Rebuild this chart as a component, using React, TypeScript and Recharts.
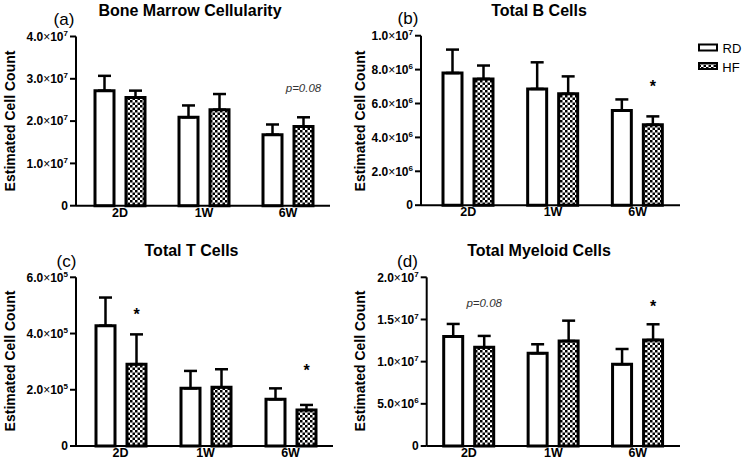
import React from 'react';
import { BarChart, Bar, XAxis, YAxis, ErrorBar, LabelList } from 'recharts';

const FONT = '"Liberation Sans", Arial, Helvetica, sans-serif';

const timepoints = ['2D', '1W', '6W'];

// (a) Bone Marrow Cellularity
const marrowRD = [2.72e7, 2.09e7, 1.68e7];
const marrowRDErr = [0.35e7, 0.28e7, 0.24e7];
const marrowHF = [2.56e7, 2.27e7, 1.87e7];
const marrowHFErr = [0.16e7, 0.37e7, 0.22e7];
const marrowNote = ['', '', 'p=0.08'];
const marrowNoteAt = [0, 0, 2.79e7];
const marrowTicks = [0, 1e7, 2e7, 3e7, 4e7];

// (b) Total B Cells
const bcellRD = [7.8e6, 6.86e6, 5.59e6];
const bcellRDErr = [1.38e6, 1.57e6, 0.65e6];
const bcellHF = [7.45e6, 6.57e6, 4.75e6];
const bcellHFErr = [0.79e6, 1.03e6, 0.49e6];
const bcellNote = ['', '', '*'];
const bcellNoteAt = [0, 0, 7.2e6];
const bcellTicks = [0, 2e6, 4e6, 6e6, 8e6, 1e7];

// (c) Total T Cells
const tcellRD = [4.28e5, 2.05e5, 1.66e5];
const tcellRDErr = [1.0e5, 0.62e5, 0.39e5];
const tcellHF = [2.91e5, 2.09e5, 1.28e5];
const tcellHFErr = [1.06e5, 0.64e5, 0.18e5];
const tcellNote = ['*', '', '*'];
const tcellNoteAt = [4.8e5, 0, 2.79e5];
const tcellTicks = [0, 2e5, 4e5, 6e5];

// (d) Total Myeloid Cells
const myeloidRD = [1.297e7, 1.1e7, 0.969e7];
const myeloidRDErr = [0.15e7, 0.106e7, 0.181e7];
const myeloidHF = [1.17e7, 1.245e7, 1.257e7];
const myeloidHFErr = [0.135e7, 0.241e7, 0.186e7];
const myeloidNote = ['p=0.08', '', '*'];
const myeloidNoteAt = [1.7e7, 0, 1.69e7];
const myeloidTicks = [0, 5e6, 1e7, 1.5e7, 2e7];

const buildRows = (rd: number[], rdErr: number[], hf: number[], hfErr: number[], note: string[], noteAt: number[]) =>
  timepoints.map((t, i) => ({
    time: t,
    rd: rd[i],
    rdErr: [0, rdErr[i]],
    hf: hf[i],
    hfErr: [0, hfErr[i]],
    note: note[i],
    noteAt: noteAt[i],
  }));

function YTick(props: any) {
  const { x, y, payload } = props;
  const v = payload.value;
  const common = { x, y, dy: '0.35em', textAnchor: 'end' as const, fontSize: 12, fontWeight: 700, fill: '#000', fontFamily: FONT };
  if (v === 0) return <text {...common}>0</text>;
  const exp = Math.floor(Math.log10(v) + 1e-9);
  const mant = (v / Math.pow(10, exp)).toFixed(1);
  return (
    <text {...common}>
      {mant}
      <tspan fontWeight={400}>×</tspan>
      10
      <tspan fontSize={8} dy={-5}>{exp}</tspan>
    </text>
  );
}

const noteRenderer = (rows: any[]) => (props: any) => {
  const row = rows[props.index];
  if (!row || !row.note) return null;
  const vb = props.viewBox || props;
  const { x, y, width, height } = vb;
  if (height == null || !row.hf) return null;
  const zeroY = y + height;
  const cy = zeroY - (row.noteAt * height) / row.hf;
  const cx = x + width / 2;
  if (row.note === '*') {
    return (
      <text x={cx} y={cy + 8.5} textAnchor="middle" fontSize={16} fontWeight={700} fill="#000" fontFamily={FONT}>*</text>
    );
  }
  return (
    <text x={cx} y={cy + 4} textAnchor="middle" fontSize={11.5} fontStyle="italic" fill="#333" fontFamily={FONT}>{row.note}</text>
  );
};

const Y_W = 60;
const X_H = 22;

function Checker({ id }: { id: string }) {
  return (
    <pattern id={id} patternUnits="userSpaceOnUse" width={5} height={5}>
      <rect width={5} height={5} fill="#fff" />
      <rect width={2.5} height={2.5} fill="#000" />
      <rect x={2.5} y={2.5} width={2.5} height={2.5} fill="#000" />
    </pattern>
  );
}

function Panel(s: any) {
  const margin = {
    top: s.plotTop - s.top,
    right: s.left + s.width - s.plotRight,
    bottom: s.top + s.height - s.zeroY - X_H,
    left: s.plotLeft - s.left - Y_W,
  };
  const pid = `check-${s.id}`;
  const max = s.ticks[s.ticks.length - 1];
  return (
    <div style={{ position: 'absolute', left: s.left, top: s.top }}>
      <BarChart width={s.width} height={s.height} data={s.rows} margin={margin} barSize={19} barGap={12} style={{ fontFamily: FONT }}>
        <defs>
          <Checker id={pid} />
        </defs>
        <XAxis
          dataKey="time"
          interval={0}
          height={X_H}
          padding={{ left: s.padLeft, right: 0 }}
          axisLine={{ stroke: '#000', strokeWidth: 2 }}
          tickLine={false}
          tickSize={0}
          tickMargin={2}
          tick={{ fill: '#000', fontSize: 12.5, fontWeight: 700, fontFamily: FONT }}
        />
        <YAxis
          type="number"
          width={Y_W}
          domain={[0, max]}
          ticks={s.ticks}
          interval={0}
          axisLine={{ stroke: '#000', strokeWidth: 2 }}
          tickLine={{ stroke: '#000', strokeWidth: 2 }}
          tickSize={6}
          tickMargin={2}
          tick={(p: any) => <YTick {...p} />}
        />
        <Bar dataKey="rd" name="RD" fill="#fff" stroke="#000" strokeWidth={3} isAnimationActive={false}>
          <ErrorBar dataKey="rdErr" direction="y" width={6.5} strokeWidth={2.5} stroke="#000" isAnimationActive={false} />
        </Bar>
        <Bar dataKey="hf" name="HF" fill={`url(#${pid})`} stroke="#000" strokeWidth={3} isAnimationActive={false}>
          <ErrorBar dataKey="hfErr" direction="y" width={6.5} strokeWidth={2.5} stroke="#000" isAnimationActive={false} />
          <LabelList dataKey="note" content={noteRenderer(s.rows)} />
        </Bar>
      </BarChart>
    </div>
  );
}

function Txt({ x, y, size, bold, rotate, children }: any) {
  return (
    <div
      style={{
        position: 'absolute',
        left: x,
        top: y,
        transform: `translate(-50%, -50%)${rotate ? ` rotate(${rotate}deg)` : ''}`,
        fontSize: size,
        fontWeight: bold ? 700 : 400,
        lineHeight: 1,
        whiteSpace: 'nowrap',
        color: '#000',
        fontFamily: FONT,
      }}
    >
      {children}
    </div>
  );
}

const panels = [
  { id: 'a', left: 0, top: 0, width: 345, height: 230, plotLeft: 76, plotRight: 330, plotTop: 36.5, zeroY: 205.7, padLeft: 2, ticks: marrowTicks,
    rows: buildRows(marrowRD, marrowRDErr, marrowHF, marrowHFErr, marrowNote, marrowNoteAt) },
  { id: 'b', left: 370, top: 0, width: 320, height: 230, plotLeft: 421, plotRight: 680, plotTop: 35.7, zeroY: 205.2, padLeft: 5, ticks: bcellTicks,
    rows: buildRows(bcellRD, bcellRDErr, bcellHF, bcellHFErr, bcellNote, bcellNoteAt) },
  { id: 'c', left: 0, top: 235, width: 345, height: 232, plotLeft: 76, plotRight: 333, plotTop: 277.3, zeroY: 446, padLeft: 2, ticks: tcellTicks,
    rows: buildRows(tcellRD, tcellRDErr, tcellHF, tcellHFErr, tcellNote, tcellNoteAt) },
  { id: 'd', left: 370, top: 235, width: 320, height: 232, plotLeft: 426.7, plotRight: 680, plotTop: 277.3, zeroY: 446, padLeft: 0, ticks: myeloidTicks,
    rows: buildRows(myeloidRD, myeloidRDErr, myeloidHF, myeloidHFErr, myeloidNote, myeloidNoteAt) },
];

const titles = [
  { text: 'Bone Marrow Cellularity', x: 190, y: 11 },
  { text: 'Total B Cells', x: 539, y: 11 },
  { text: 'Total T Cells', x: 191.5, y: 251 },
  { text: 'Total Myeloid Cells', x: 539, y: 251 },
];

const letters = [
  { text: '(a)', x: 64, y: 18.5 },
  { text: '(b)', x: 408, y: 17.5 },
  { text: '(c)', x: 66.5, y: 260.5 },
  { text: '(d)', x: 407.5, y: 260.5 },
];

const yLabels = [
  { x: 10, y: 121 },
  { x: 360, y: 121 },
  { x: 10, y: 361 },
  { x: 360, y: 361 },
];

export default function App() {
  return (
    <div style={{ position: 'absolute', left: 0, top: 0, width: 750, height: 467, background: '#fff', overflow: 'hidden', fontFamily: FONT }}>
      {panels.map((p) => (
        <Panel key={p.id} {...p} />
      ))}
      {titles.map((t) => (
        <Txt key={t.text} x={t.x} y={t.y} size={16} bold>{t.text}</Txt>
      ))}
      {letters.map((t) => (
        <Txt key={t.text} x={t.x} y={t.y} size={17}>{t.text}</Txt>
      ))}
      {yLabels.map((t, i) => (
        <Txt key={i} x={t.x} y={t.y} size={14} bold rotate={-90}>Estimated Cell Count</Txt>
      ))}
      <svg style={{ position: 'absolute', left: 696, top: 42 }} width={24} height={32}>
        <defs>
          <Checker id="check-legend" />
        </defs>
        <rect x={3} y={2.5} width={18} height={6} fill="#fff" stroke="#000" strokeWidth={2} />
        <rect x={3} y={21} width={18} height={6} fill="url(#check-legend)" stroke="#000" strokeWidth={2} />
      </svg>
      <Txt x={732} y={47.5} size={13}>RD</Txt>
      <Txt x={731} y={66.5} size={13}>HF</Txt>
    </div>
  );
}
